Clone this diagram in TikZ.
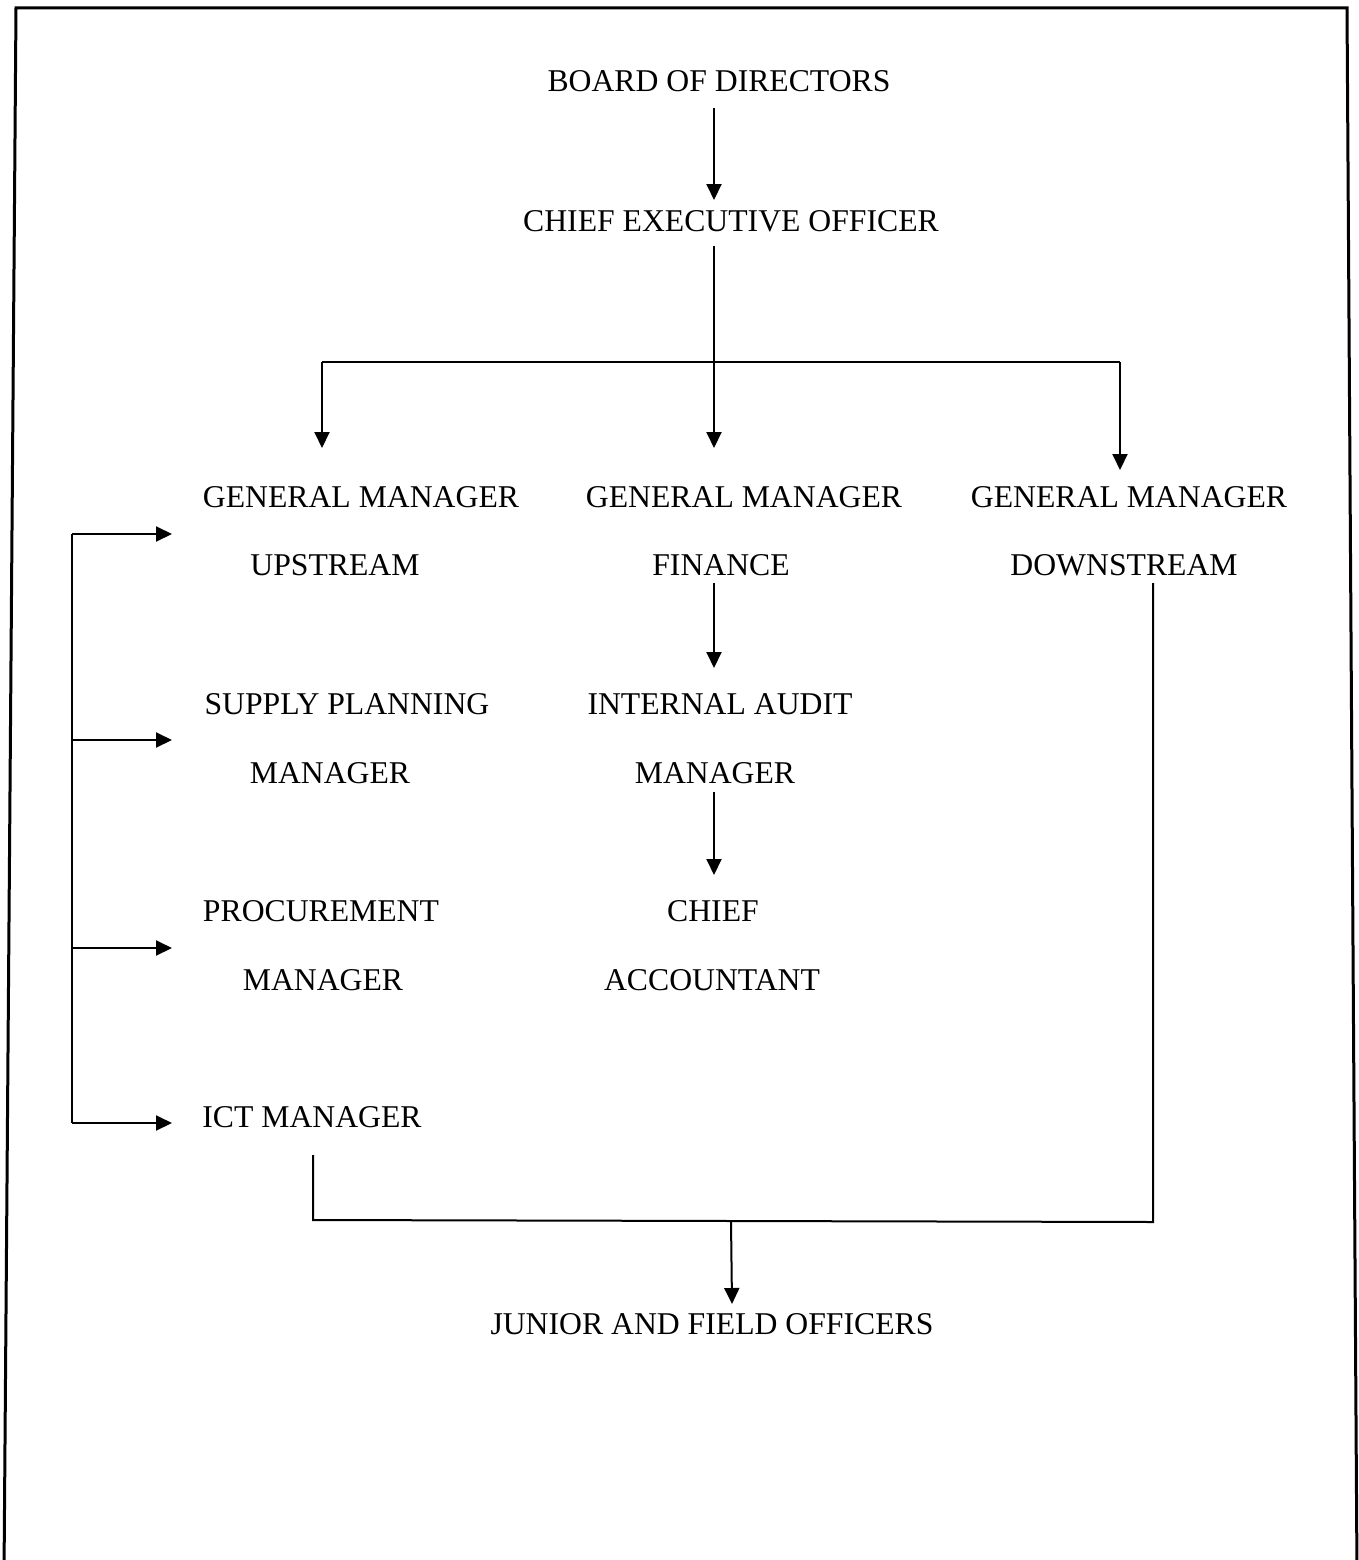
\documentclass[tikz,border=0pt]{standalone}
\usepackage{fontspec}
\setmainfont{Liberation Serif}
\usetikzlibrary{arrows.meta}
\begin{document}
\begin{tikzpicture}[x=1pt,y=-1pt,
  lbl/.style={anchor=base,inner sep=0pt,font=\fontsize{31.7}{38}\selectfont},
  ln/.style={line width=2pt},
  arr/.style={line width=2pt,-{Triangle[length=16pt,width=15pt]}}]
\useasboundingbox (0,0) rectangle (1359,1560);
\draw[line width=3pt] (4,1575) -- (16,8) -- (1347,8) -- (1357,1575);
% labels
\node[lbl] (bod) at (719,92) {BOARD OF DIRECTORS};
\node[lbl] (ceo) at (731,231) {CHIEF EXECUTIVE OFFICER};
\node[lbl] (gmu1) at (361,507) {GENERAL MANAGER};
\node[lbl] (gmu2) at (335,575) {UPSTREAM};
\node[lbl] (gmf1) at (744,507) {GENERAL MANAGER};
\node[lbl] (gmf2) at (721,575) {FINANCE};
\node[lbl] (gmd1) at (1129,507) {GENERAL MANAGER};
\node[lbl] (gmd2) at (1124,575) {DOWNSTREAM};
\node[lbl] (spm1) at (347,714) {SUPPLY PLANNING};
\node[lbl] (spm2) at (330,783) {MANAGER};
\node[lbl] (iam1) at (720,714) {INTERNAL AUDIT};
\node[lbl] (iam2) at (715,783) {MANAGER};
\node[lbl] (pm1) at (321,921) {PROCUREMENT};
\node[lbl] (pm2) at (323,990) {MANAGER};
\node[lbl] (ca1) at (713,921) {CHIEF};
\node[lbl] (ca2) at (712,990) {ACCOUNTANT};
\node[lbl] (ict) at (312,1127) {ICT MANAGER};
\node[lbl] (jfo) at (712,1334) {JUNIOR AND FIELD OFFICERS};
% coordinates
\coordinate (bodS) at (714,108);
\coordinate (ceoN) at (714,200);
\coordinate (ceoS) at (714,246);
\coordinate (hL) at (322,362);
\coordinate (hM) at (714,362);
\coordinate (hR) at (1120,362);
\coordinate (tL) at (322,448);
\coordinate (tM) at (714,448);
\coordinate (tR) at (1120,470);
\coordinate (finS) at (714,583);
\coordinate (iamN) at (714,668);
\coordinate (iamS) at (714,792);
\coordinate (caN) at (714,875);
\coordinate (b1) at (72,534);
\coordinate (b2) at (72,740);
\coordinate (b3) at (72,948);
\coordinate (b4) at (72,1123);
\coordinate (a1) at (172,534);
\coordinate (a2) at (172,740);
\coordinate (a3) at (172,948);
\coordinate (a4) at (172,1123);
\coordinate (ictS) at (313,1155);
\coordinate (jl) at (313,1220);
\coordinate (jm) at (731,1221);
\coordinate (jr) at (1153,1222);
\coordinate (dwS) at (1153,583);
\coordinate (jfoN) at (732,1304);
% connectors
\draw[arr] (bodS) -- (ceoN);
\draw[arr] (ceoS) -- (tM);
\draw[ln] (hL) -- (hR);
\draw[arr] (hL) -- (tL);
\draw[arr] (hR) -- (tR);
\draw[arr] (finS) -- (iamN);
\draw[arr] (iamS) -- (caN);
\draw[ln] (b1) -- (b4);
\draw[arr] (b1) -- (a1);
\draw[arr] (b2) -- (a2);
\draw[arr] (b3) -- (a3);
\draw[arr] (b4) -- (a4);
\draw[ln] (ictS) -- (jl) -- (jr) -- (dwS);
\draw[arr] (jm) -- (jfoN);
\end{tikzpicture}
\end{document}
